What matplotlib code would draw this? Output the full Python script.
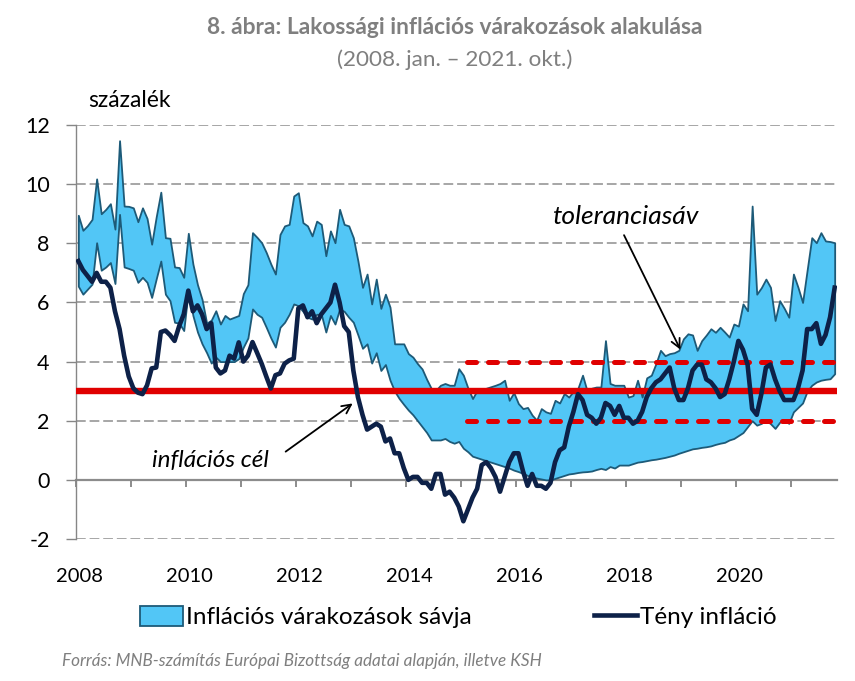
import numpy as np
import matplotlib
matplotlib.use("Agg")
import matplotlib.pyplot as plt
from matplotlib.patches import Patch
from matplotlib.lines import Line2D

plt.rcParams['font.family'] = ['Lato', 'DejaVu Sans']

# ---------------- data (monthly, 2008 Jan - 2021 Oct) ----------------
start_year = 2008
inflation = [
    7.4, 7.1, 6.9, 6.7, 7.0, 6.7, 6.7, 6.5, 5.7, 5.1, 4.2, 3.5,      # 2008
    3.1, 2.95, 2.9, 3.2, 3.77, 3.8, 5.0, 5.05, 4.9, 4.7, 5.2, 5.6,   # 2009
    6.4, 5.7, 5.9, 5.6, 5.1, 5.3, 3.8, 3.6, 3.7, 4.2, 4.1, 4.65,     # 2010
    4.0, 4.2, 4.66, 4.3, 3.93, 3.5, 3.09, 3.54, 3.6, 3.93, 4.04, 4.1,  # 2011
    5.8, 5.9, 5.5, 5.7, 5.3, 5.6, 5.8, 6.0, 6.6, 6.0, 5.2, 5.0,      # 2012
    3.7, 2.8, 2.2, 1.7, 1.8, 1.9, 1.8, 1.3, 1.4, 0.9, 0.9, 0.4,      # 2013
    0.0, 0.1, 0.1, -0.1, -0.1, -0.3, 0.2, 0.2, -0.5, -0.4, -0.6, -0.9,  # 2014
    -1.4, -1.0, -0.6, -0.3, 0.5, 0.6, 0.4, 0.1, -0.4, 0.1, 0.6, 0.9,   # 2015
    0.9, 0.3, -0.2, 0.2, -0.2, -0.2, -0.3, -0.1, 0.6, 1.0, 1.1, 1.8,   # 2016
    2.3, 2.9, 2.7, 2.2, 2.1, 1.9, 2.1, 2.6, 2.5, 2.2, 2.5, 2.1,      # 2017
    2.1, 1.9, 2.0, 2.3, 2.8, 3.1, 3.3, 3.4, 3.6, 3.8, 3.1, 2.7,      # 2018
    2.7, 3.1, 3.7, 3.9, 3.9, 3.4, 3.3, 3.1, 2.8, 2.9, 3.4, 4.0,      # 2019
    4.7, 4.4, 3.9, 2.4, 2.2, 2.9, 3.8, 3.9, 3.4, 3.0, 2.7, 2.7,      # 2020
    2.7, 3.1, 3.7, 5.1, 5.1, 5.3, 4.6, 4.9, 5.5, 6.5,                # 2021
]
band_upper = [
    8.95, 8.44, 8.6, 8.81, 10.18, 9.0, 9.15, 9.34, 8.48, 11.47, 9.26, 9.25,   # 2008
    9.2, 8.73, 9.2, 8.84, 7.97, 8.9, 9.73, 8.19, 8.17, 7.2, 7.18, 6.85,      # 2009
    8.34, 7.3, 6.6, 6.1, 5.3, 5.4, 5.72, 5.27, 5.56, 5.44, 5.5, 5.56,        # 2010
    6.3, 6.6, 8.36, 8.2, 8.02, 7.69, 7.3, 6.96, 8.3, 8.59, 8.64, 9.6,        # 2011
    9.71, 8.7, 8.59, 8.25, 8.75, 8.64, 7.58, 8.42, 8.02, 9.15, 8.64, 8.59,   # 2012
    8.19, 7.4, 6.51, 6.96, 5.95, 6.79, 5.8, 6.28, 5.84, 4.6, 4.6, 4.6,      # 2013
    4.27, 4.15, 3.93, 3.75, 3.4, 3.09, 3.03, 3.2, 3.26, 3.2, 3.2, 3.76,     # 2014
    3.54, 3.1, 2.75, 3.03, 3.03, 3.1, 3.15, 3.2, 3.26, 3.37, 2.69, 2.95,    # 2015
    2.58, 2.41, 2.45, 2.19, 2.02, 2.41, 2.3, 2.25, 2.69, 2.6, 2.92, 2.8,    # 2016
    3.0, 3.1, 3.54, 3.0, 3.1, 3.14, 3.14, 4.71, 3.26, 3.2, 3.2, 3.2,        # 2017
    2.8, 2.85, 3.37, 2.8, 3.45, 3.54, 3.93, 4.38, 4.2, 4.27, 4.3, 4.38,     # 2018
    4.77, 4.94, 4.9, 4.38, 4.71, 4.9, 5.11, 4.99, 5.16, 5.0, 4.83, 5.27,    # 2019
    5.2, 5.95, 5.72, 9.26, 6.28, 6.5, 6.79, 6.51, 5.39, 6.06, 5.8, 5.5,     # 2020
    6.96, 6.51, 6.0, 7.1, 8.19, 8.02, 8.36, 8.08, 8.06, 8.02,               # 2021
]
band_lower = [
    6.55, 6.28, 6.45, 6.62, 8.02, 7.09, 7.2, 7.35, 6.64, 8.98, 7.2, 7.15,   # 2008
    7.09, 6.68, 6.85, 6.68, 6.17, 6.8, 7.4, 6.28, 6.06, 5.33, 5.3, 5.05,    # 2009
    6.42, 5.56, 5.0, 4.6, 4.3, 3.95, 4.15, 4.0, 4.0, 4.0, 4.0, 4.1,         # 2010
    4.49, 4.8, 5.78, 5.6, 5.5, 5.16, 4.8, 4.49, 5.16, 5.33, 5.6, 5.95,      # 2011
    5.89, 5.7, 5.5, 5.44, 5.6, 5.6, 5.0, 5.56, 5.27, 5.78, 5.7, 5.5,        # 2012
    5.33, 4.9, 4.45, 4.6, 3.95, 4.3, 3.7, 3.9, 3.37, 3.0, 2.75, 2.55,      # 2013
    2.36, 2.2, 2.0, 1.8, 1.6, 1.35, 1.35, 1.35, 1.4, 1.3, 1.24, 1.3,        # 2014
    1.07, 0.95, 0.8, 0.75, 0.7, 0.65, 0.6, 0.55, 0.5, 0.45, 0.4, 0.33,      # 2015
    0.28, 0.22, 0.15, 0.1, 0.06, 0.03, 0.0, 0.0, 0.05, 0.1, 0.15, 0.2,      # 2016
    0.22, 0.25, 0.27, 0.28, 0.3, 0.35, 0.39, 0.35, 0.45, 0.4, 0.5, 0.5,     # 2017
    0.5, 0.55, 0.6, 0.62, 0.65, 0.68, 0.7, 0.73, 0.76, 0.8, 0.84, 0.9,      # 2018
    0.95, 1.0, 1.05, 1.07, 1.1, 1.12, 1.15, 1.2, 1.24, 1.27, 1.35, 1.4,     # 2019
    1.5, 1.6, 1.8, 2.0, 1.85, 1.91, 2.02, 1.9, 1.74, 1.95, 2.02, 1.91,      # 2020
    2.3, 2.45, 2.6, 3.0, 3.2, 3.31, 3.37, 3.4, 3.42, 3.59,                  # 2021
]
target = 3.0
tol_low, tol_high = 2.0, 4.0
tol_start = 2015.1
year_ticks = list(range(2008, 2022))
year_labels = [2008, 2010, 2012, 2014, 2016, 2018, 2020]
y_ticks = [-2, 0, 2, 4, 6, 8, 10, 12]

n = len(inflation)
t = start_year + (np.arange(n) + 0.5) / 12.0
x_end = start_year + n / 12.0

# ---------------- figure ----------------
fig = plt.figure(figsize=(8.55, 6.81), dpi=100)
ax = fig.add_axes([0.0889, 0.2085, 0.8900, 0.6079])

band_col = '#52C6F6'
edge_col = '#1D5A78'
navy = '#0D2148'
red = '#E00000'
grid_col = '#A6A6A6'

ax.set_xlim(start_year, x_end)
ax.set_ylim(-2, 12)

for yv in y_ticks:
    if yv != 0:
        ax.axhline(yv, color=grid_col, lw=1.4, ls=(0, (5, 2)), zorder=1)

ax.fill_between(t, band_lower, band_upper, facecolor=band_col,
                edgecolor=edge_col, lw=1.3, zorder=2)

ax.plot([start_year, x_end], [target, target], color=red, lw=4.6,
        solid_capstyle='butt', zorder=3)
for yv in (tol_low, tol_high):
    ax.plot([tol_start, x_end - 0.03], [yv, yv], color=red, lw=3.6,
            ls=(0, (1.8, 2.4)), dash_capstyle='round', zorder=3)

ax.plot(t, inflation, color=navy, lw=3.3, solid_joinstyle='round', zorder=4)

# axes styling
for s in ('top', 'right'):
    ax.spines[s].set_visible(False)
ax.spines['left'].set_color('#868686')
ax.spines['left'].set_linewidth(1.0)
ax.spines['bottom'].set_position(('data', 0))
ax.spines['bottom'].set_color('#8C8C8C')
ax.spines['bottom'].set_linewidth(1.6)
ax.spines['bottom'].set_zorder(1.5)

ax.set_yticks(y_ticks)
ax.set_yticklabels([str(v) for v in y_ticks])
ax.tick_params(axis='y', length=7, width=1, color='#868686', pad=12,
               labelsize=15.5, direction='out')
ax.set_xticks(year_ticks)
ax.set_xticklabels([''] * len(year_ticks))
ax.tick_params(axis='x', length=5, width=1.4, color='#8C8C8C', direction='out')

for yr in year_labels:
    ax.text(yr + 0.06, -3.27, str(yr), ha='center', va='center',
            fontsize=14.5, clip_on=False)

# annotations
ax.annotate('', xy=(2019.01, 4.32), xytext=(2017.94, 8.36),
            arrowprops=dict(arrowstyle='->', color='black', lw=1.3,
                            mutation_scale=16), zorder=6)
ax.text(2017.98, 8.9, 'toleranciasáv', style='italic', fontsize=19,
        ha='center', va='center', zorder=6)
ax.annotate('', xy=(2013.07, 2.64), xytext=(2011.77, 0.9),
            arrowprops=dict(arrowstyle='->', color='black', lw=1.3,
                            mutation_scale=16), zorder=6)
ax.text(2010.45, 0.67, 'inflációs cél', style='italic', fontsize=17.5,
        ha='center', va='center', zorder=6)

# titles
fig.text(0.532, 0.959, '8. ábra: Lakossági inflációs várakozások alakulása',
         ha='center', va='center', fontsize=16.4, fontweight='bold',
         color='#7F7F7F')
fig.text(0.532, 0.912, '(2008. jan. – 2021. okt.)', ha='center', va='center',
         fontsize=16.2, color='#7F7F7F')
fig.text(0.103, 0.853, 'százalék', ha='left', va='center', fontsize=16.5)

# legend
handles = [Patch(facecolor=band_col, edgecolor=edge_col, lw=1.3),
           Line2D([0], [0], color=navy, lw=3.3)]
fig.legend(handles, ['Inflációs várakozások sávja', 'Tény infláció'],
           loc='center', bbox_to_anchor=(0.536, 0.094), ncol=2, frameon=False,
           fontsize=17.5, handlelength=1.77, handleheight=0.9,
           handletextpad=0.12, columnspacing=5.0)

fig.text(0.0725, 0.029,
         'Forrás: MNB-számítás Európai Bizottság adatai alapján, illetve KSH',
         ha='left', va='center', fontsize=12.3, style='italic', color='#7F7F7F')

fig.savefig('out.png', dpi=100)
